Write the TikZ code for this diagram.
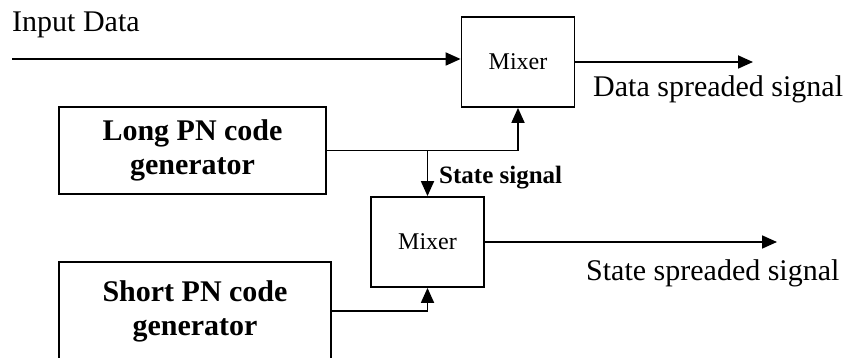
\documentclass[tikz,border=0pt]{standalone}
\usepackage{fontspec}
\setmainfont{Liberation Serif}
\usetikzlibrary{arrows.meta, positioning, calc}
\tikzset{
    % Base styles
    basenode/.style={
        draw, line width=1.8pt, align=center, inner sep=0pt
    },
    % Specific node types
    gennode/.style={basenode, font=\fontsize{30}{34}\selectfont\bfseries},
    mixnode/.style={basenode, font=\fontsize{24}{28}\selectfont,
        minimum width=113pt, minimum height=90pt},
    % Arrows
    myarrow/.style={-{Triangle[length=15pt, width=13pt]}, line width=1.8pt},
    % Labels
    siglabel/.style={font=\fontsize{30}{34}\selectfont, inner sep=0pt},
    statelabel/.style={font=\fontsize{25}{30}\selectfont\bfseries, inner sep=0pt},
}
\begin{document}
\begin{tikzpicture}[x=1pt, y=-1pt]
\useasboundingbox (0,0) rectangle (844,358);

% Nodes
\node (mix1) [mixnode] at (518,62) {Mixer};
\node (mix2) [mixnode] at (427.5,242) {Mixer};

\node (lgen) [gennode, minimum width=267pt, minimum height=87pt] at (192.5,150.5) {
    Long PN code\\
    generator
};

\node (sgen) [gennode, minimum width=272pt, minimum height=98pt] at (195,311) {
    Short PN code\\
    generator
};

% Free ends
\coordinate (inp) at (12,59);
\coordinate (out1) at (753,62);
\coordinate (out2) at (777,242);
\coordinate (split) at (mix2.north |- lgen.east);

% Arrows
\draw[myarrow] (inp) -- (inp -| mix1.west);
\draw[myarrow] (mix1.east) -- (out1);
\draw[myarrow] (lgen.east) -| (mix1.south);
\draw[myarrow] (split) -- (mix2.north);
\draw[myarrow] (sgen.east) -| (mix2.south);
\draw[myarrow] (mix2.east) -- (out2);

% Labels
\node (inlabel) [siglabel, anchor=base west] at (12,32) {Input Data};
\node (datalabel) [siglabel, anchor=base west] at (593,97) {Data spreaded signal};
\node (statelbl) [siglabel, anchor=base west] at (586,280) {State spreaded signal};
\node (stsig) [statelabel, anchor=base west] at (439,184) {State signal};

\end{tikzpicture}
\end{document}
